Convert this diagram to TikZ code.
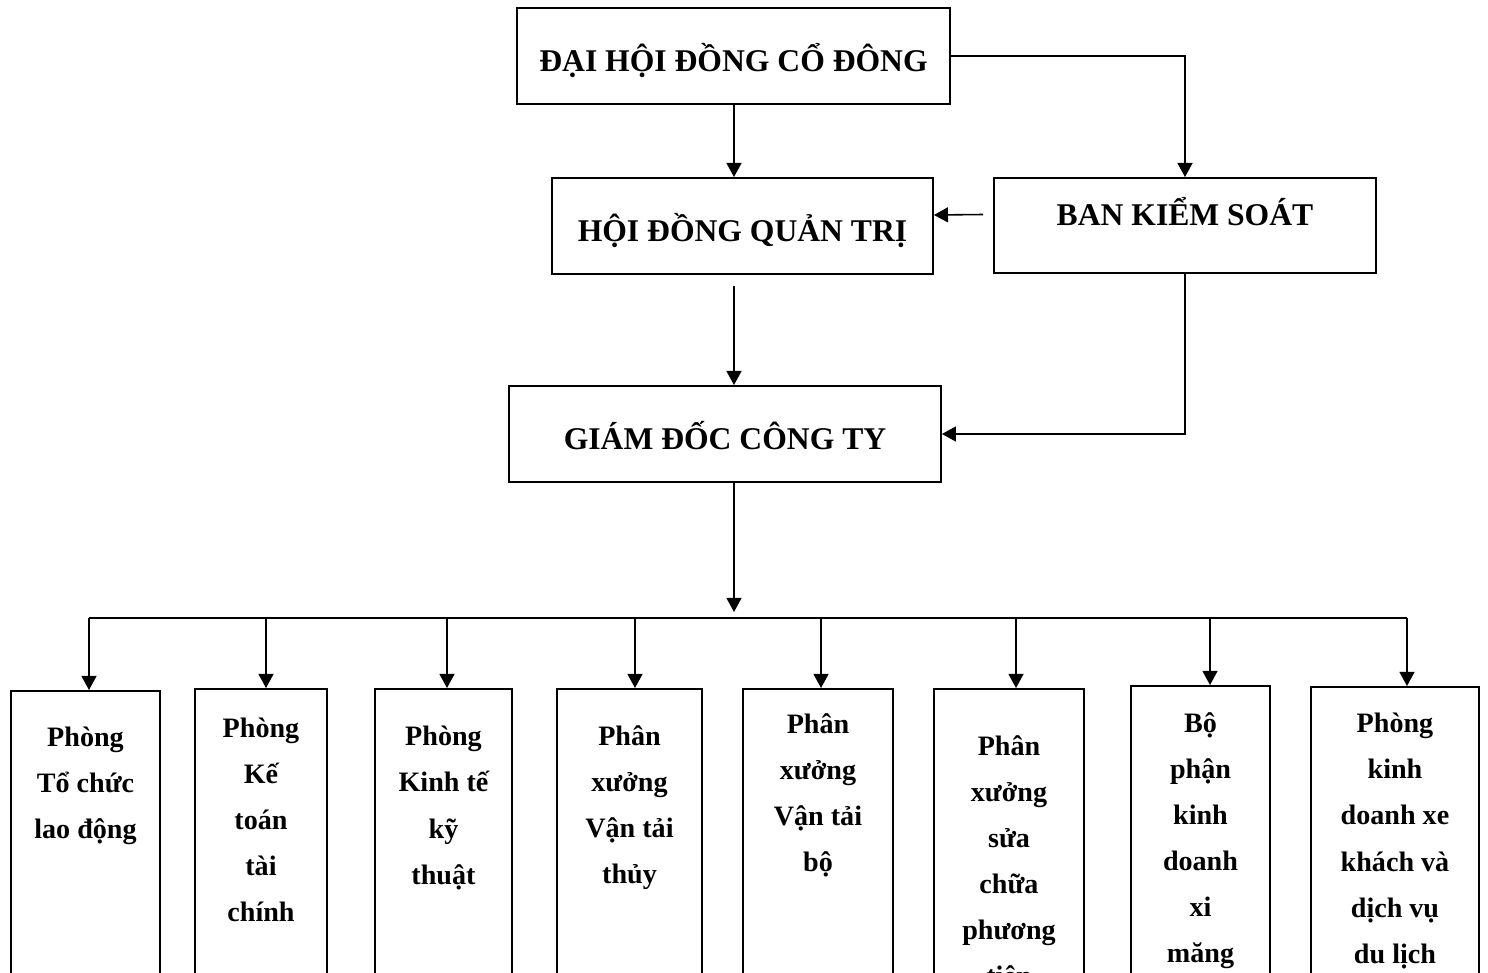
\documentclass[tikz,border=0pt]{standalone}
\usepackage{fontspec}
\setmainfont{Liberation Serif}
\usetikzlibrary{arrows.meta,positioning}

\tikzset{
  topbox/.style={draw, line width=1.1pt, inner sep=0pt,
    font=\bfseries\fontsize{18}{22}\selectfont, text height=18pt, text depth=0pt},
  deptbox/.style={draw, line width=1.1pt, anchor=north, minimum height=9cm, inner sep=0pt},
  depttext/.style={align=center, inner sep=0pt,
    font=\bfseries\fontsize{16}{26.2}\selectfont},
  link/.style={line width=0.9pt, -{Triangle[length=8pt,width=8.5pt]}},
  wire/.style={line width=0.9pt}
}

\begin{document}
\begin{tikzpicture}[x=0.02cm,y=-0.02cm]
\useasboundingbox (0,0) rectangle (1488,973);

% upper levels
\node[topbox, minimum width=8.66cm, minimum height=1.92cm] (dhdcd) at (733.5,56) {ĐẠI HỘI ĐỒNG CỔ ĐÔNG};
\node[topbox, minimum width=7.62cm, minimum height=1.92cm] (hdqt) at (742.5,226) {HỘI ĐỒNG QUẢN TRỊ};
\node[topbox, minimum width=7.64cm, minimum height=1.90cm, text height=12pt, text depth=12.4pt] (bks) at (1185,225.5) {BAN KIỂM SOÁT};
\node[topbox, minimum width=8.64cm, minimum height=1.92cm] (gd) at (725,434) {GIÁM ĐỐC CÔNG TY};
\coordinate (bus) at (734,618);

\draw[link] (dhdcd.south -| bus) -- (hdqt.north -| bus);
\draw[link] (dhdcd.east) -| (bks.north);
\draw[link] ([xshift=-0.2cm,yshift=0.22cm]bks.west) -- ([yshift=0.22cm]hdqt.east);
\draw[link] ([yshift=-0.22cm]hdqt.south -| bus) -- (gd.north -| bus);
\draw[link] (bks.south) |- (gd.east);
\draw[link] (gd.south -| bus) -- ([yshift=0.12cm]bus);

% departments
\foreach \n/\x/\a/\t/\w/\c/\txt in {
  1/85.5/89/690/2.98/786/{Phòng\\Tổ chức\\lao động},
  2/261/266/688/2.64/820/{Phòng\\Kế\\toán\\tài\\chính},
  3/443.5/447/688/2.74/808/{Phòng\\Kinh tế\\kỹ\\thuật},
  4/629.5/635/688/2.90/808/{Phân\\xưởng\\Vận tải\\thủy},
  5/818/821/688/3.00/795/{Phân\\xưởng\\Vận tải\\bộ},
  6/1009/1016/688/3.00/863/{Phân\\xưởng\\sửa\\chữa\\phương\\tiện},
  7/1200.5/1210/685/2.78/841/{Bộ\\phận\\kinh\\doanh\\xi\\măng},
  8/1395/1407/686/3.36/841/{Phòng\\kinh\\doanh xe\\khách và\\dịch vụ\\du lịch}}
{
  \node[deptbox, minimum width=\w cm] (d\n) at (\x,\t) {};
  \node[depttext] (d\n t) at (\x,\c) {\txt};
  \coordinate (a\n) at (\a,618);
  \draw[link] (a\n) -- (a\n |- d\n.north);
}
\draw[wire] (a1) -- (a8);
\end{tikzpicture}
\end{document}
